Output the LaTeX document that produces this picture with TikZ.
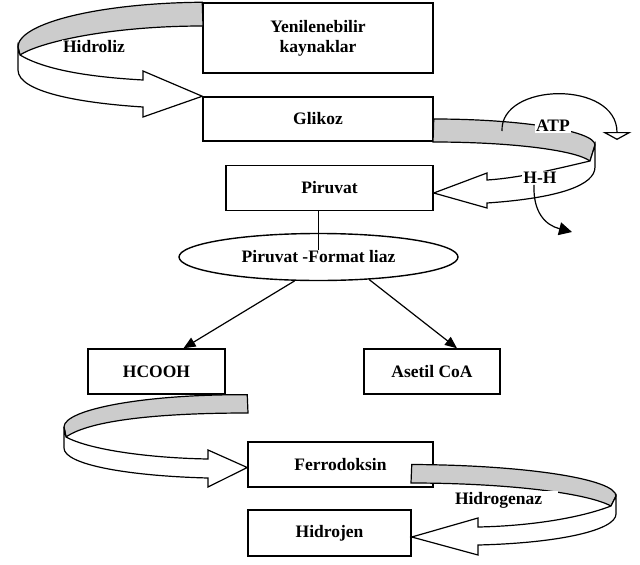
\documentclass[tikz,border=0pt]{standalone}
\usepackage{fontspec}
\setmainfont{Liberation Serif}
\usetikzlibrary{arrows.meta,shapes.geometric,calc}
\definecolor{seritgri}{gray}{0.8}
\tikzset{
  kutu/.style={draw, line width=1.5pt, minimum height=45pt, inner sep=0pt, align=center},
  etiket/.style={fill=white, inner sep=1pt},
  ust/.style={draw, fill=seritgri, line width=1.2pt},
  alt/.style={draw, fill=white, line width=1.2pt},
  ok/.style={line width=1.2pt, -{Triangle[length=12pt,width=10pt]}},
}

\begin{document}
\begin{tikzpicture}[x=1pt, y=-1pt, font=\bfseries\fontsize{17.5}{20}\selectfont]
  \useasboundingbox (0,0) rectangle (640,565);
  % kutular
  \node[kutu, minimum width=230pt, minimum height=70pt] (yk) at (318,38) {Yenilenebilir\\kaynaklar};
  \node[kutu, minimum width=230pt, minimum height=44pt] (gl) at (318,119) {Glikoz};
  \node[kutu, minimum width=207pt] (pv) at (329.5,188) {Piruvat};
  \node[draw, ellipse, line width=1.4pt, minimum width=279pt, minimum height=47pt, inner sep=0pt] (pfl) at (318.5,257) {Piruvat -Format liaz};
  \node[kutu, minimum width=137pt] (hc) at (156.5,371.5) {HCOOH};
  \node[kutu, minimum width=136pt] (ac) at (432,371.5) {Asetil CoA};
  \node[kutu, minimum width=185pt] (fd) at (340.5,464.5) {Ferrodoksin};
  \node[kutu, minimum width=163pt, minimum height=46pt] (hj) at (329.5,533) {Hidrojen};

  \draw[line width=1.2pt] (pfl.north |- pv.south) -- ([yshift=7pt]pfl.center);
  \path[ok] (pfl.225) edge ([xshift=27pt]hc.north);
  \path[ok] (pfl.336) edge ([xshift=25pt]ac.north);

  % hidroliz seridi
  \draw[ust] (yk.north west) .. controls (100,3) and (18,23) .. (18,47) -- (20,55)
    .. controls (40,42) and (110,26) .. (203,26) -- cycle;
  \draw[alt] (18,47) -- (20,55) .. controls (45,70) and (90,77) .. (143,80) -- (143,71)
    -- (gl.north west) -- (143,117) -- (143,107) .. controls (80,103) and (18,92) .. (18,70) -- cycle;
  \node[etiket] (hd) at (94,47) {Hidroliz};

  % glikoz -> piruvat
  \draw[ust] (gl.east) .. controls (522,119) and (595,131) .. (595,145) -- (590,161)
    .. controls (575,150) and (510,142) .. (433,142) -- cycle;
  \draw[alt] (595,145) -- (590,161) .. controls (560,168) and (520,178) .. (487,180) -- (487,173)
    -- ([yshift=-5pt]pv.east) -- (487,208) -- (487,203) .. controls (560,198) and (595,185) .. (595,167) -- cycle;
  \node[etiket] (atp) at (553,126) {ATP};
  \node[etiket] (hh) at (540,178) {H-H};
  \coordinate (atpbas) at (502,131);
  \coordinate (atpuc) at (617,140);
  \coordinate (hhuc) at (572,232);
  \draw[line width=1.2pt, -{Triangle[open, length=8pt, width=29pt]}] (atpbas) .. controls (500,82) and (617,80) .. (atpuc);
  \draw[line width=1.2pt, -{Triangle[length=13pt, width=13pt]}] ([xshift=-6pt]hh.south) .. controls (533,212) and (545,225) .. (hhuc);

  % HCOOH -> ferrodoksin
  \draw[ust] (fd.west |- hc.south) .. controls (147,394) and (64,409) .. (64,427) -- (66,437)
    .. controls (90,420) and (160,413) .. (248,413) -- cycle;
  \draw[alt] (64,427) -- (66,437) .. controls (90,450) and (150,458) .. (208,459) -- (208,450)
    -- ([yshift=-3pt]fd.west) -- (208,487) -- (208,478) .. controls (130,476) and (64,465) .. (64,448) -- cycle;

  % ferrodoksin -> hidrojen
  \draw[ust] (hj.east |- fd.east) .. controls (525,465) and (616,479) .. (616,496) -- (611,506)
    .. controls (585,492) and (500,483) .. (411,483) -- cycle;
  \draw[alt] (616,496) -- (611,506) .. controls (580,518) and (530,526) .. (478,527) -- (478,518)
    -- ([yshift=-4pt]hj.east) -- (478,555) -- (478,545) .. controls (560,543) and (616,530) .. (616,514) -- cycle;
  \node[etiket, text width=102pt, align=left] (hg) at (506,500) {Hidrogenaz};
\end{tikzpicture}
\end{document}
